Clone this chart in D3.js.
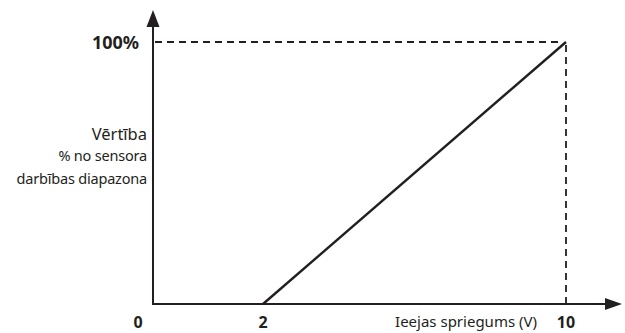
<!DOCTYPE html>
<html>
<head>
<meta charset="utf-8">
<script src="https://cdn.jsdelivr.net/npm/d3@7"></script>
<style>
  html, body { margin: 0; padding: 0; background: #fff; }
  svg { display: block; font-family: "Noto Sans", "Open Sans", sans-serif; }
</style>
</head>
<body>
<div id="chart"></div>
<script>
// Input voltage (V) -> value in % of sensor working range
const voltageTicks = [0, 2, 10];
const voltageLabels = ['0', '2', '10'];
const percentTicks = [100];
const percentLabels = ['100%'];
const lineVoltage = [2, 10];
const linePercent = [0, 100];
const yTitleLines = ['Vērtība', '% no sensora', 'darbības diapazona'];
const xTitle = 'Ieejas spriegums (V)';

const width = 625, height = 333;
const ink = '#231f20';

const svg = d3.select('#chart')
  .append('svg')
  .attr('width', width)
  .attr('height', height);

// schematic axis: 0 sits on the corner, 2 and 10 further along
const x = d3.scaleLinear().domain([0, 2, 10]).range([153, 263, 566]);
const y = d3.scaleLinear().domain([0, 100]).range([304, 42]);

const x0 = x(0), y0 = y(0);

// axes with arrow heads
svg.append('line')
  .attr('x1', x0).attr('y1', y0 + 1)
  .attr('x2', x0).attr('y2', 26)
  .attr('stroke', ink).attr('stroke-width', 2);
svg.append('path')
  .attr('d', `M${x0 - 6.5},27 L${x0},10 L${x0 + 6.5},27 Z`)
  .attr('fill', ink);

svg.append('line')
  .attr('x1', x0 - 1).attr('y1', y0)
  .attr('x2', 606).attr('y2', y0)
  .attr('stroke', ink).attr('stroke-width', 2);
svg.append('path')
  .attr('d', `M605,${y0 - 6} L622,${y0} L605,${y0 + 6} Z`)
  .attr('fill', ink);

// dashed guides to the 100% / 10 V corner
const xMax = x(d3.max(lineVoltage));
const yMax = y(d3.max(linePercent));
svg.append('line')
  .attr('x1', x0 + 2).attr('y1', yMax)
  .attr('x2', xMax - 3).attr('y2', yMax)
  .attr('stroke', ink).attr('stroke-width', 2)
  .attr('stroke-dasharray', '7,5');
svg.append('line')
  .attr('x1', xMax).attr('y1', yMax + 3)
  .attr('x2', xMax).attr('y2', y0 - 1)
  .attr('stroke', ink).attr('stroke-width', 1.8)
  .attr('stroke-dasharray', '7,5');

// characteristic line
const pts = lineVoltage.map((v, i) => [v, linePercent[i]]);
svg.append('path')
  .datum(pts)
  .attr('d', d3.line().x(d => x(d[0])).y(d => y(d[1])))
  .attr('fill', 'none')
  .attr('stroke', ink)
  .attr('stroke-width', 2.4);

// tick labels
svg.selectAll('.xlab')
  .data(voltageTicks)
  .enter().append('text')
  .attr('class', 'xlab')
  .attr('x', (d, i) => i === 0 ? x(d) - 15 : x(d))
  .attr('y', 328)
  .attr('text-anchor', 'middle')
  .attr('font-size', 16)
  .attr('font-weight', 'bold')
  .attr('fill', ink)
  .text((d, i) => voltageLabels[i]);

svg.selectAll('.ylab')
  .data(percentTicks)
  .enter().append('text')
  .attr('class', 'ylab')
  .attr('x', 139)
  .attr('y', d => y(d) + 7)
  .attr('text-anchor', 'end')
  .attr('font-size', 18)
  .attr('font-weight', 'bold')
  .attr('fill', ink)
  .text((d, i) => percentLabels[i]);

// axis titles
svg.append('text')
  .attr('x', 147).attr('y', 140)
  .attr('text-anchor', 'end')
  .attr('font-size', 16.5)
  .attr('fill', ink)
  .text(yTitleLines[0]);
svg.selectAll('.ysub')
  .data(yTitleLines.slice(1))
  .enter().append('text')
  .attr('class', 'ysub')
  .attr('x', 147)
  .attr('y', (d, i) => 161 + i * 23)
  .attr('text-anchor', 'end')
  .attr('font-size', 14.5)
  .attr('letter-spacing', -0.2)
  .attr('fill', ink)
  .text(d => d);

svg.append('text')
  .attr('x', 537).attr('y', 327)
  .attr('text-anchor', 'end')
  .attr('font-size', 15)
  .attr('fill', ink)
  .text(xTitle);
</script>
</body>
</html>
